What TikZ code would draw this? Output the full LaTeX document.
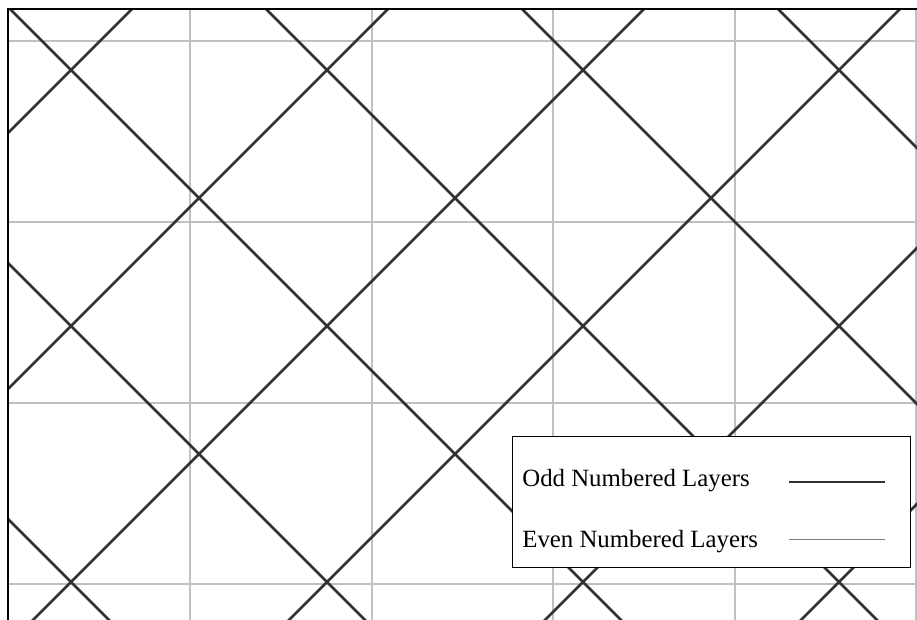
\documentclass[tikz,border=0pt]{standalone}
\usepackage{fontspec}
\setmainfont{Liberation Serif}
\definecolor{gridgray}{RGB}{192,192,192}
\definecolor{diagdark}{RGB}{50,50,50}
\definecolor{leggray}{RGB}{125,125,125}
\tikzset{
  gridline/.style={draw=gridgray,line width=1pt},
  oddline/.style={draw=diagdark,line width=1.3pt},
  evenline/.style={draw=leggray,line width=0.8pt},
  framebox/.style={draw=black,line width=1pt},
  legendbox/.style={draw=black,fill=white,line width=0.7pt},
  legtext/.style={anchor=base west,inner sep=0pt,font=\fontsize{12.4}{14}\selectfont}
}
\begin{document}
\begin{tikzpicture}[x=0.5pt,y=-0.5pt]
\useasboundingbox (0,0) rectangle (917,620);
\fill[white] (0,0) rectangle (917,620);
\begin{scope}
\clip (8,9) rectangle (917,620);
% even numbered layers: orthogonal grid
\foreach \k in {0,...,4} {
  \draw[gridline] ({190+181.5*\k},9) -- ({190+181.5*\k},620);
}
\foreach \k in {0,...,3} {
  \draw[gridline] (8,{41+181*\k}) -- (917,{41+181*\k});
}
% odd numbered layers: diagonal grid
\foreach \c in {-769,-513,-257,-1,255,511} {
  \draw[oddline] ({8-10},{8-10+\c}) -- ({917+10},{917+10+\c});
}
\foreach \d in {141,397,653,909,1165,1421} {
  \draw[oddline] ({-10},{\d+10}) -- ({\d+10-0},{-10});
}
\end{scope}
% frame
\draw[framebox] (8,620) -- (8,9) -- (917,9);
% legend
\node[legendbox,minimum width=199pt,minimum height=65.5pt,anchor=north west,inner sep=0pt] (legend) at (512,436) {};
\node[legtext] (oddtext) at (522,487) {Odd Numbered Layers};
\node[legtext] (eventext) at (522,547) {Even Numbered Layers};
\coordinate (oddA) at (789,482);
\coordinate (oddB) at (885,482);
\coordinate (evenA) at (789,539.5);
\coordinate (evenB) at (885,539.5);
\draw[oddline] (oddA) -- (oddB);
\draw[evenline] (evenA) -- (evenB);
\end{tikzpicture}
\end{document}
